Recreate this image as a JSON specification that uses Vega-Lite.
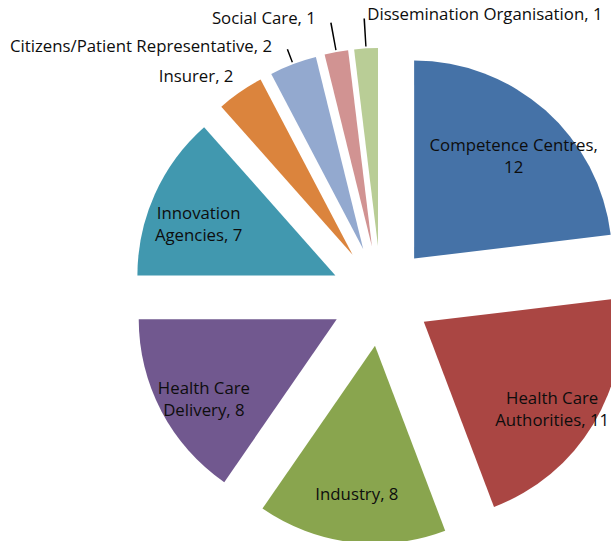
{
  "$schema": "https://vega.github.io/schema/vega-lite/v6.json",
  "width": 460,
  "height": 490,
  "autosize": "none",
  "padding": {"left": 151, "top": 51, "right": 0, "bottom": 0},
  "background": "white",
  "config": {"view": {"stroke": null}},
  "data": {
    "values": [
      {"category": "Competence Centres", "value": 12, "label": "Competence Centres,\n12"},
      {"category": "Health Care Authorities", "value": 11, "label": "Health Care\nAuthorities, 11"},
      {"category": "Industry", "value": 8, "label": "Industry, 8"},
      {"category": "Health Care Delivery", "value": 8, "label": "Health Care\nDelivery, 8"},
      {"category": "Innovation Agencies", "value": 7, "label": "Innovation\nAgencies, 7"},
      {"category": "Insurer", "value": 2, "label": "Insurer, 2"},
      {"category": "Citizens/Patient Representative", "value": 2, "label": "Citizens/Patient Representative, 2"},
      {"category": "Social Care", "value": 1, "label": "Social Care, 1"},
      {"category": "Dissemination Organisation", "value": 1, "label": "Dissemination Organisation, 1"}
    ]
  },
  "layer": [
    {
      "mark": {
        "type": "arc",
        "radius": 198,
        "xOffset": {"expr": "50*sin(scale('theta', (datum.value_start + datum.value_end)/2))"},
        "yOffset": {"expr": "-50*cos(scale('theta', (datum.value_start + datum.value_end)/2))"}
      },
      "encoding": {
        "theta": {"field": "value", "type": "quantitative", "stack": true},
        "order": {"field": "value", "type": "quantitative", "sort": "descending"},
        "color": {
          "field": "category",
          "type": "nominal",
          "legend": null,
          "scale": {
            "domain": ["Competence Centres", "Health Care Authorities", "Industry", "Health Care Delivery", "Innovation Agencies", "Insurer", "Citizens/Patient Representative", "Social Care", "Dissemination Organisation"],
            "range": ["#4572A7", "#AA4643", "#89A54E", "#71588F", "#4198AF", "#DB843D", "#93A9CF", "#D19392", "#B9CD96"]
          }
        }
      }
    },
    {
      "mark": {
        "type": "text",
        "radius": 150,
        "font": "Open Sans",
        "fontSize": 16.8,
        "lineBreak": "\n",
        "lineHeight": 22,
        "color": "#0d0d0d",
        "xOffset": {"expr": "50*sin(scale('theta', (datum.value_start + datum.value_end)/2))"},
        "yOffset": {"expr": "-50*cos(scale('theta', (datum.value_start + datum.value_end)/2))"}
      },
      "encoding": {
        "theta": {"field": "value", "type": "quantitative", "stack": true},
        "order": {"field": "value", "type": "quantitative", "sort": "descending"},
        "text": {"condition": {"test": "datum.value >= 7", "field": "label", "type": "nominal"}, "value": ""}
      }
    },
    {
      "mark": {
        "type": "text",
        "radius": {"expr": "datum.value == 1 ? 228 : 215"},
        "font": "Open Sans",
        "fontSize": 16.8,
        "color": "#0d0d0d",
        "baseline": "middle",
        "align": {"expr": "datum.category == 'Dissemination Organisation' ? 'left' : 'right'"},
        "dx": {"expr": "datum.category == 'Dissemination Organisation' ? 3 : datum.category == 'Insurer' ? 3 : -15"},
        "dy": {"expr": "datum.value == 1 ? -4 : -1"},
        "xOffset": {"expr": "50*sin(scale('theta', (datum.value_start + datum.value_end)/2))"},
        "yOffset": {"expr": "-50*cos(scale('theta', (datum.value_start + datum.value_end)/2))"}
      },
      "encoding": {
        "theta": {"field": "value", "type": "quantitative", "stack": true},
        "order": {"field": "value", "type": "quantitative", "sort": "descending"},
        "text": {"condition": {"test": "datum.value < 7", "field": "label", "type": "nominal"}, "value": ""}
      }
    },
    {
      "transform": [
        {"stack": "value", "groupby": [], "sort": [{"field": "value", "order": "descending"}], "as": ["v0", "v1"]},
        {"filter": "datum.category == 'Citizens/Patient Representative' || datum.value == 1"}
      ],
      "mark": {
        "type": "arc",
        "color": "#000000",
        "theta": {"expr": "scale('theta', (datum.v0 + datum.v1)/2) - 0.0035"},
        "theta2": {"expr": "scale('theta', (datum.v0 + datum.v1)/2) + 0.0035"},
        "radius2": 200,
        "radius": {"expr": "datum.value == 1 ? 228 : 214"},
        "xOffset": {"expr": "50*sin(scale('theta', (datum.v0 + datum.v1)/2))"},
        "yOffset": {"expr": "-50*cos(scale('theta', (datum.v0 + datum.v1)/2))"}
      }
    }
  ]
}
